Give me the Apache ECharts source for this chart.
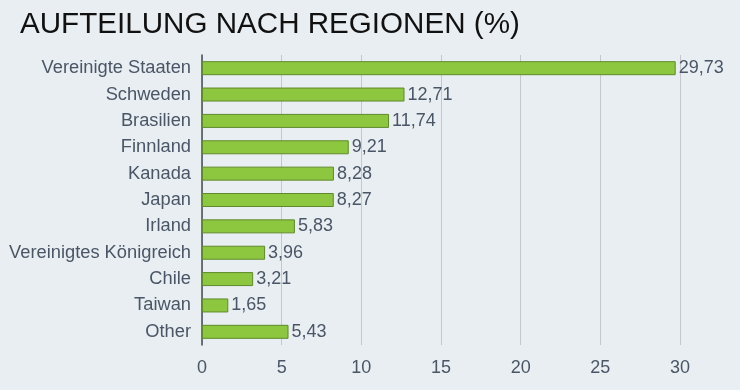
<!DOCTYPE html>
<html><head><meta charset="utf-8">
<script src="https://cdn.jsdelivr.net/npm/echarts@6/dist/echarts.min.js"></script>
<style>html,body{margin:0;padding:0;background:#e9eef2;}#c{width:740px;height:390px;}</style>
</head><body><div id="c"></div>
<script>
const categories = ["Vereinigte Staaten","Schweden","Brasilien","Finnland","Kanada","Japan","Irland","Vereinigtes Königreich","Chile","Taiwan","Other"];
const values = [29.73,12.71,11.74,9.21,8.28,8.27,5.83,3.96,3.21,1.65,5.43];
const chart = echarts.init(document.getElementById('c'));
chart.setOption({
  backgroundColor:'#e9eef2',
  animation:false,
  title:{text:'AUFTEILUNG NACH REGIONEN (%)',left:15,top:5,textStyle:{fontFamily:'Liberation Sans',fontSize:29.6,fontWeight:'normal',color:'#111'}},
  grid:{left:202,right:60,top:55,bottom:45,containLabel:false},
  xAxis:{type:'value',min:0,max:30,interval:5,
    axisLine:{show:false},axisTick:{show:false},
    axisLabel:{fontFamily:'Liberation Sans',fontSize:18,color:'#4a5666',margin:14},
    splitLine:{lineStyle:{color:'#c4c8cc',width:1}}},
  yAxis:{type:'category',data:categories,inverse:true,
    axisLine:{lineStyle:{color:'#444c58',width:1.5}},axisTick:{show:false},
    axisLabel:{fontFamily:'Liberation Sans',fontSize:18.3,color:'#4a5666',margin:11}},
  series:[{type:'bar',data:values,barWidth:14,
    itemStyle:{color:'#8dc63f',borderColor:'#5e8a2a',borderWidth:1},
    label:{show:true,position:'right',distance:3,fontFamily:'Liberation Sans',fontSize:18,color:'#4a5666',
      formatter:p=>p.value.toFixed(2).replace('.',',')}}]
});
</script></body></html>
